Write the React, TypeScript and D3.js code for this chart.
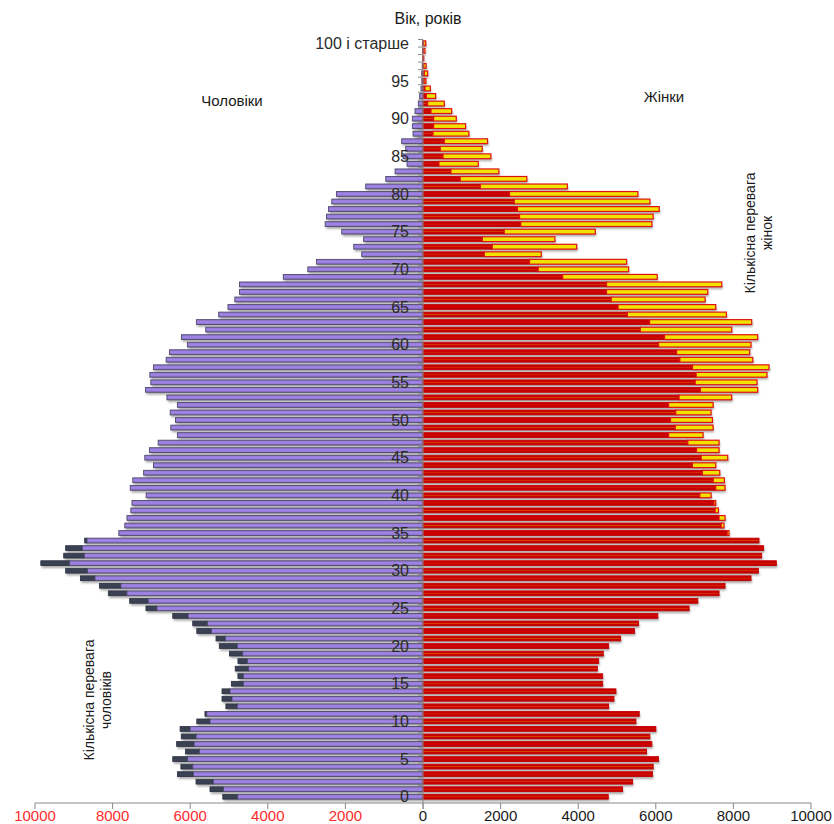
import React from 'react';
import * as d3 from 'd3';

const ages: number[] = d3.range(0, 101);

const men: number[] = [
  5160, 5490, 5850, 6330, 6240, 6450, 6120, 6350, 6230, 6260,
  5830, 5620, 5080, 5180, 5180, 4940, 4770, 4840, 4770, 4990,
  5250, 5335, 5830, 5935, 6450, 7140, 7560, 8110, 8340, 8830,
  9210, 9850, 9260, 9210, 8720, 7840, 7685, 7630, 7530, 7500,
  7135, 7545, 7480, 7200, 6945, 7170, 7050, 6825, 6330, 6500,
  6380, 6515, 6330, 6600, 7150, 7015, 7040, 6946, 6620, 6535,
  6072, 6226, 5600, 5840, 5266, 5027, 4850, 4730, 4730, 3600,
  2969, 2745, 1580, 1785, 1530, 2094, 2521, 2488, 2436, 2351,
  2231, 1477, 960, 720, 412, 515, 446, 549, 257, 274,
  274, 206, 120, 86, 51, 30, 34, 20, 5, 10,
  15,
];

const women: number[] = [
  4775, 5145, 5403, 5917, 5933, 6071, 5763, 5899, 5848, 6002,
  5488, 5573, 4785, 4922, 4973, 4631, 4631, 4493, 4528, 4647,
  4785, 5094, 5454, 5557, 6053, 6859, 7083, 7631, 7785, 8454,
  8644, 9107, 8729, 8780, 8660, 7888, 7757, 7785, 7615, 7546,
  7425, 7785, 7768, 7649, 7546, 7854, 7631, 7631, 7219, 7477,
  7460, 7425, 7477, 7957, 8626, 8609, 8866, 8918, 8500, 8420,
  8454, 8626, 7957, 8472, 7821, 7546, 7271, 7340, 7700, 6036,
  5300, 5248, 3050, 3962, 3400, 4441, 5899, 5933, 6088, 5848,
  5539, 3720, 2676, 1955, 1424, 1750, 1527, 1664, 1183, 1098,
  858, 738, 549, 326, 189, 75, 120, 80, 20, 50,
  70,
];

const ageTickValues: number[] = [0, 5, 10, 15, 20, 25, 30, 35, 40, 45, 50, 55, 60, 65, 70, 75, 80, 85, 90, 95, 100];
const ageTickLabels: string[] = ['0', '5', '10', '15', '20', '25', '30', '35', '40', '45', '50', '55', '60', '65', '70', '75', '80', '85', '90', '95', '100 і старше'];
const xTickValues: number[] = [0, 2000, 4000, 6000, 8000, 10000];

const FONT = "'Liberation Sans', Arial, sans-serif";

export default function App() {
  const W = 834;
  const H = 824;
  const cx = 423;
  const y = d3.scaleBand<number>().domain(ages).range([800.5, 39.5]).padding(0);
  const bw = y.bandwidth();
  const bh = 4.8;
  const xm = d3.scaleLinear().domain([0, 10000]).range([cx, 35]);
  const xw = d3.scaleLinear().domain([0, 10000]).range([cx, 811]);
  const mid = (a: number) => (y(a) as number) + bw / 2;
  const axisY = 803;

  return (
    <svg width={W} height={H} style={{ position: 'absolute', left: 0, top: 0, background: '#fff' }} fontFamily={FONT}>
      <defs>
        <filter id="blur" x="-5%" y="-50%" width="110%" height="200%">
          <feGaussianBlur stdDeviation="0.9" />
        </filter>
        <linearGradient id="redg" x1="0" y1="0" x2="0" y2="1">
          <stop offset="0" stopColor="#c80000" />
          <stop offset="0.4" stopColor="#cc0000" />
          <stop offset="0.5" stopColor="#d24a00" />
          <stop offset="0.6" stopColor="#cc0000" />
          <stop offset="1" stopColor="#c00000" />
        </linearGradient>
        <linearGradient id="lavg" x1="0" y1="0" x2="0" y2="1">
          <stop offset="0" stopColor="#8f74cf" />
          <stop offset="0.5" stopColor="#a286e6" />
          <stop offset="1" stopColor="#8c70cc" />
        </linearGradient>
      </defs>

      {/* shadows */}
      <g filter="url(#blur)" opacity={0.75}>
        {ages.map((a, i) => {
          const m = men[i];
          const w = women[i];
          const c = mid(a);
          return (
            <g key={'s' + a}>
              <rect x={xm(m) + 1} y={c - bh / 2 + 2.4} width={cx - xm(m)} height={bh} fill="#8f8f8f" />
              <rect x={cx + 1} y={c - bh / 2 + 2.4} width={xw(w) - cx} height={bh} fill="#8f8f8f" />
            </g>
          );
        })}
      </g>

      {/* men bars */}
      {ages.map((a, i) => {
        const m = men[i];
        const w = women[i];
        const lo = Math.min(m, w);
        const c = mid(a);
        return (
          <g key={'m' + a}>
            {m > w && (
              <rect x={xm(m)} y={c - bh / 2} width={xm(lo) - xm(m)} height={bh} fill="#3a4153" stroke="#2b3040" strokeWidth={0.8} />
            )}
            <rect x={xm(lo)} y={c - bh / 2} width={cx - xm(lo)} height={bh} fill="url(#lavg)" stroke="#4d4a6a" strokeWidth={0.9} />
          </g>
        );
      })}

      {/* women bars */}
      {ages.map((a, i) => {
        const m = men[i];
        const w = women[i];
        const lo = Math.min(m, w);
        const c = mid(a);
        return (
          <g key={'w' + a}>
            <rect x={cx} y={c - bh / 2} width={xw(lo) - cx} height={bh} fill="url(#redg)" stroke="#c40000" strokeWidth={0.9} />
            {w > m && (
              <rect x={xw(lo)} y={c - bh / 2} width={xw(w) - xw(lo)} height={bh} fill="#f2e200" stroke="#e01010" strokeWidth={1.2} />
            )}
          </g>
        );
      })}

      {/* vertical axis */}
      <line x1={cx} x2={cx} y1={39.5} y2={axisY} stroke="#8a8a8a" strokeWidth={1} />
      {ages.map((a) => (
        <line key={'t' + a} x1={cx - 5} x2={cx} y1={(y(a) as number)} y2={(y(a) as number)} stroke="#8a8a8a" strokeWidth={1} />
      ))}
      {ageTickValues.map((a, i) => (
        <text key={'al' + a} x={409} y={mid(a)} dy="0.35em" textAnchor="end" fontSize={16} fill="#2a2a2a">
          {ageTickLabels[i]}
        </text>
      ))}

      {/* horizontal axis */}
      <line x1={35} x2={811} y1={axisY} y2={axisY} stroke="#8a8a8a" strokeWidth={1} />
      {xTickValues.map((v) => (
        <g key={'xm' + v}>
          <line x1={xm(v)} x2={xm(v)} y1={axisY} y2={axisY + 6} stroke="#8a8a8a" />
          {v !== 0 && (
            <text x={xm(v)} y={821} textAnchor="middle" fontSize={15} fill="#ff2a2a">{v}</text>
          )}
        </g>
      ))}
      {xTickValues.map((v) => (
        <g key={'xw' + v}>
          <line x1={xw(v)} x2={xw(v)} y1={axisY} y2={axisY + 6} stroke="#8a8a8a" />
          <text x={xw(v)} y={821} textAnchor="middle" fontSize={15} fill="#1a1a1a">{v}</text>
        </g>
      ))}

      {/* titles */}
      <text x={428} y={24} textAnchor="middle" fontSize={16} fill="#1a1a1a">Вік, років</text>
      <text x={232} y={106} textAnchor="middle" fontSize={15} fill="#1a1a1a">Чоловіки</text>
      <text x={664} y={102} textAnchor="middle" fontSize={15} fill="#1a1a1a">Жінки</text>

      <g transform="translate(755,233) rotate(-90)">
        <text x={0} y={0} textAnchor="middle" fontSize={14} fill="#1a1a1a">Кількісна перевага</text>
        <text x={0} y={17} textAnchor="middle" fontSize={14} fill="#1a1a1a">жінок</text>
      </g>
      <g transform="translate(94,700) rotate(-90)">
        <text x={0} y={0} textAnchor="middle" fontSize={14} fill="#1a1a1a">Кількісна перевага</text>
        <text x={0} y={17} textAnchor="middle" fontSize={14} fill="#1a1a1a">чоловіків</text>
      </g>
    </svg>
  );
}
